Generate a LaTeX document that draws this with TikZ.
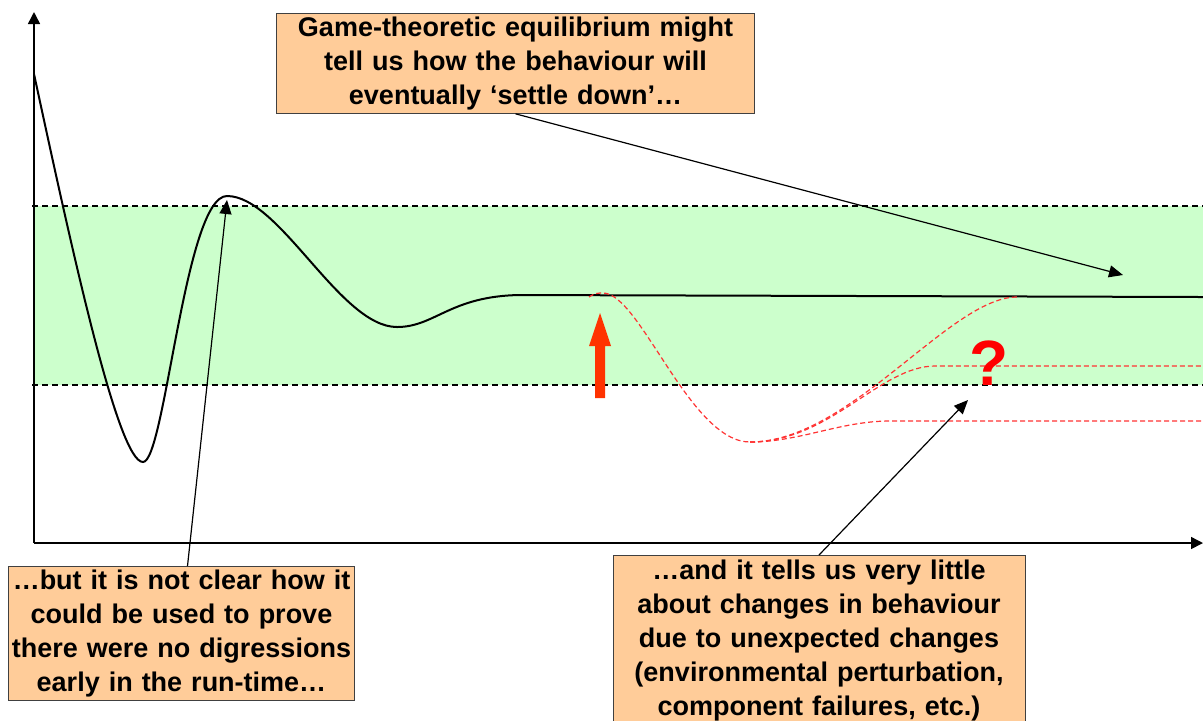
\documentclass[tikz,border=0pt]{standalone}
\usepackage{fontspec}
\setmainfont{Liberation Sans}
\usetikzlibrary{arrows.meta}
\definecolor{peach}{HTML}{FFCC99}
\definecolor{mint}{HTML}{CCFFCC}
\definecolor{flame}{HTML}{FF3300}
\tikzset{
    callout/.style={draw=black!75, fill=peach, align=center, anchor=north, inner xsep=1pt, inner ysep=1pt, font=\bfseries\fontsize{13.5}{16.9}\selectfont},
    pointer/.style={-{Triangle[length=7pt,width=6pt]}, line width=0.6pt},
    axis/.style={-{Triangle[length=6pt,width=6pt]}, line width=0.75pt},
    bound/.style={dash pattern=on 3pt off 2pt, line width=0.7pt},
    drift/.style={red!80, dash pattern=on 2.5pt off 1.5pt, line width=0.6pt}
}

\begin{document}
\begin{tikzpicture}[x=0.5pt, y=-0.5pt]
    \useasboundingbox (0,0) rectangle (1203,720);

    % band of acceptable behaviour
    \fill [mint] (34,206) rectangle (1203,385);
    \draw [bound] (32,206) -- (1203,206);
    \draw [bound] (32,385) -- (1203,385);

    % axes
    \coordinate (origin) at (34,543);
    \coordinate (ytop) at (34,12);
    \coordinate (xend) at (1203,543);
    \draw [axis] (origin) -- (ytop);
    \draw [axis] (origin) -- (xend);

    % system response
    \draw [line width=1pt] (34,74) .. controls (72,250) and (118,462) .. (143,462)
        .. controls (165,462) and (185,196) .. (227,196)
        .. controls (280,196) and (340,327) .. (397,327)
        .. controls (435,327) and (450,296) .. (520,295) -- (1203,297);

    % perturbed responses
    \draw [drift] (589,297) .. controls (595,293) and (598,293) .. (603,293)
        .. controls (640,293) and (690,442) .. (750,442) coordinate (dip);
    \draw [drift] (dip) .. controls (850,442) and (950,297) .. (1017,297);
    \draw [drift] (dip) .. controls (830,442) and (880,366) .. (935,366) -- (1203,366);
    \draw [drift] (dip) .. controls (800,442) and (840,421) .. (890,421) -- (1203,421);

    % the perturbation
    \fill [flame] (595,398) -- (595,346) -- (589,346) -- (600,313) -- (611,346) -- (605,346) -- (605,398) -- cycle;
    \node [text=red, font=\bfseries\fontsize{32}{32}\selectfont] (qmark) at (989,363) {?};

    % callouts
    \node [callout, text width=237pt, minimum height=50pt] (eq) at (515.5,13) {Game-theoretic equilibrium might\\tell us how the behaviour will\\eventually ‘settle down’…};
    \node [callout, text width=171pt, minimum height=67pt] (early) at (181.5,566) {…but it is not clear how it\\could be used to prove\\there were no digressions\\early in the run-time…};
    \node [callout, text width=204pt, minimum height=85pt] (late) at (819,555) {…and it tells us very little\\about changes in behaviour\\due to unexpected changes\\(environmental perturbation,\\component failures, etc.)};

    \coordinate (settle) at (1123,275);
    \coordinate (peak) at (227,200);
    \coordinate (shift) at (968,400);
    \draw [pointer] (eq.south) -- (settle);
    \draw [pointer] ([xshift=3pt]early.north) -- (peak);
    \draw [pointer] (late.north) -- (shift);
\end{tikzpicture}
\end{document}
